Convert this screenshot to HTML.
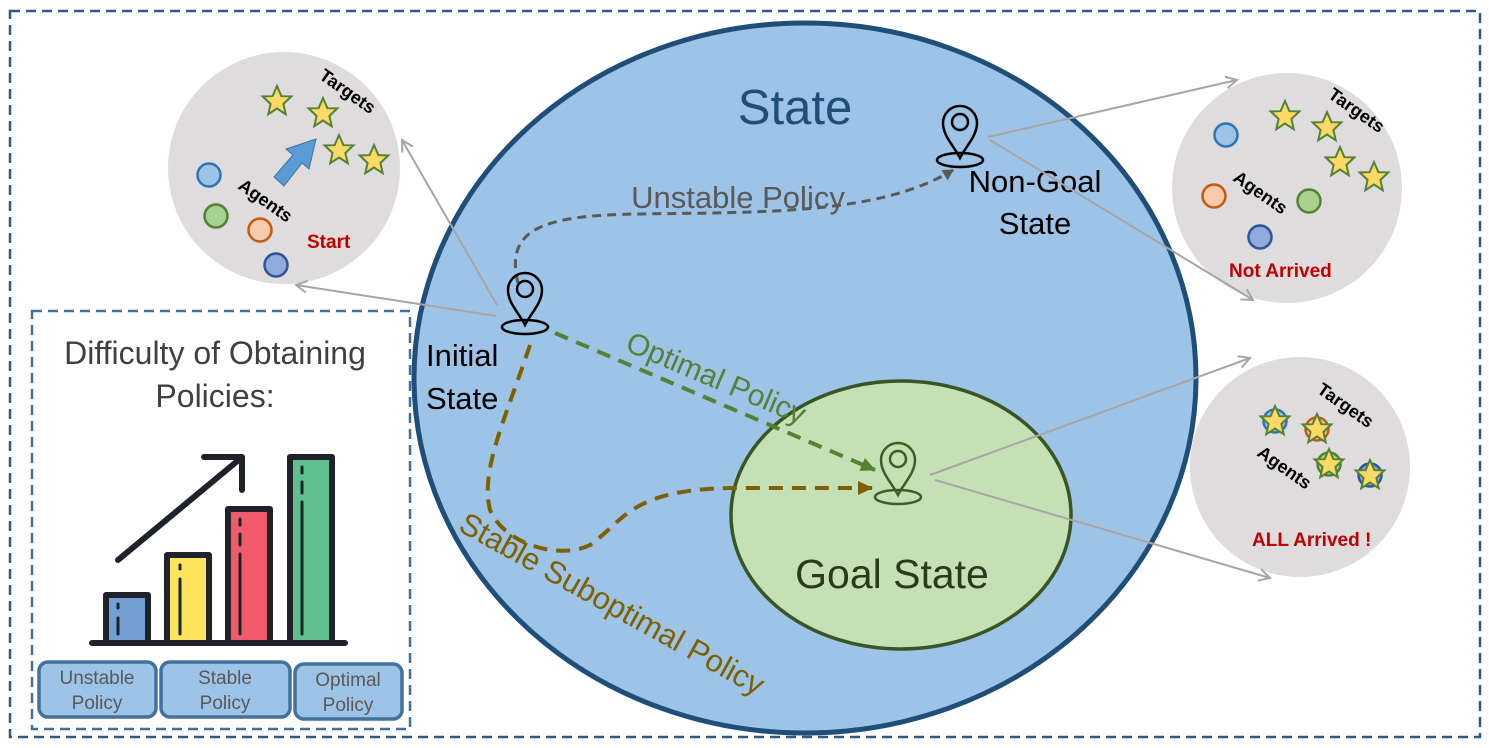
<!DOCTYPE html>
<html><head><meta charset="utf-8"><style>
body{margin:0;background:#fff}
svg{display:block;font-family:"Liberation Sans",sans-serif}
</style></head><body>
<svg width="1489" height="748" viewBox="0 0 1489 748">
<defs>
<g id="star"><polygon points="0,-15 4.4,-4.8 14.3,-4.6 6.4,3 8.7,13.2 0,7.5 -8.7,13.2 -6.4,3 -14.3,-4.6 -4.4,-4.8" fill="#ffd966" stroke="#538135" stroke-width="2"/></g>
<marker id="ag" markerWidth="14" markerHeight="14" refX="12" refY="7" orient="auto" markerUnits="userSpaceOnUse"><path d="M1,1 L12,7 L1,13" fill="none" stroke="#a6a6a6" stroke-width="2"/></marker>
<marker id="ad" markerWidth="12" markerHeight="12" refX="10" refY="6" orient="auto" markerUnits="userSpaceOnUse"><path d="M0,0 L11,6 L0,12Z" fill="#595959"/></marker>
<marker id="agr" markerWidth="16" markerHeight="16" refX="14" refY="8" orient="auto" markerUnits="userSpaceOnUse"><path d="M0,1 L15,8 L0,15Z" fill="#548235"/></marker>
<marker id="abr" markerWidth="16" markerHeight="16" refX="14" refY="8" orient="auto" markerUnits="userSpaceOnUse"><path d="M0,1 L15,8 L0,15Z" fill="#7f6000"/></marker>
<g id="pin"><path d="M0,0 C-6,-12 -17,-22 -17,-35 A17,17 0 1,1 17,-35 C17,-22 6,-12 0,0Z" fill="none" stroke-width="2.5"/><circle cx="0" cy="-36" r="8" fill="none" stroke-width="2.5"/><ellipse cx="0" cy="2" rx="23" ry="7" fill="none" stroke-width="2.5"/></g>
</defs>
<rect x="10" y="11" width="1470" height="726" fill="none" stroke="#2e5a87" stroke-width="2.5" stroke-dasharray="10,6"/>
<ellipse cx="805" cy="378" rx="391" ry="355" fill="#9dc3e6" stroke="#1f4e79" stroke-width="5"/>
<ellipse cx="901" cy="515" rx="170" ry="134" fill="#c5e0b4" stroke="#375623" stroke-width="3.5"/>
<text x="795" y="124" font-size="49" fill="#1f4e79" text-anchor="middle">State</text>
<text x="738" y="208" font-size="31" fill="#595959" text-anchor="middle">Unstable Policy</text>
<text x="1035" y="192" font-size="31" fill="#000" text-anchor="middle">Non-Goal</text>
<text x="1035" y="234" font-size="31" fill="#000" text-anchor="middle">State</text>
<text x="426" y="366" font-size="31" fill="#000">Initial</text>
<text x="426" y="409" font-size="31" fill="#000">State</text>
<text x="892" y="588" font-size="41" fill="#2b3a1f" text-anchor="middle">Goal State</text>
<text transform="translate(624,350) rotate(23)" font-size="30" fill="#548235">Optimal Policy</text>
<text transform="translate(457,530) rotate(29)" font-size="31" fill="#7f6000">Stable Suboptimal Policy</text>
<path d="M518,283 C505,230 540,215 640,214 C760,212 880,215 953,170" fill="none" stroke="#595959" stroke-width="3" stroke-dasharray="9,6" marker-end="url(#ad)"/>
<path d="M555,333 L875,470" fill="none" stroke="#548235" stroke-width="4" stroke-dasharray="14,9" marker-end="url(#agr)"/>
<path d="M530,345 C505,420 480,470 490,510 C505,545 560,560 590,545 C625,520 630,490 730,488 L872,488" fill="none" stroke="#7f6000" stroke-width="4" stroke-dasharray="14,9" marker-end="url(#abr)"/>
<use href="#pin" x="525" y="325" stroke="#000"/>
<use href="#pin" x="960" y="158" stroke="#000"/>
<use href="#pin" x="898" y="495" stroke="#3a5f24"/>
<circle cx="284" cy="168" r="116" fill="#dedcdc"/>
<circle cx="1287" cy="188" r="115" fill="#dedcdc"/>
<circle cx="1300" cy="467" r="110" fill="#dedcdc"/>
<g stroke="#a6a6a6" stroke-width="2" fill="none" marker-end="url(#ag)">
<line x1="496" y1="316" x2="296" y2="285"/>
<line x1="497" y1="305" x2="402" y2="140"/>
<line x1="988" y1="137" x2="1237" y2="80"/>
<line x1="990" y1="140" x2="1253" y2="300"/>
<line x1="930" y1="475" x2="1250" y2="358"/>
<line x1="935" y1="480" x2="1270" y2="578"/>
</g>
<use href="#star" x="277" y="101"/><use href="#star" x="323" y="113"/><use href="#star" x="339" y="150"/><use href="#star" x="374" y="160"/>
<path d="M274,177 L293,155 L286,149 L316,139 L309,169 L302,163 L284,186Z" fill="#5b9bd5" stroke="#41719c" stroke-width="1"/>
<circle cx="209" cy="175" r="11.5" fill="#9dc3e6" stroke="#2e75b6" stroke-width="2.5"/>
<circle cx="216" cy="216" r="11.5" fill="#a9d18e" stroke="#538135" stroke-width="2.5"/>
<circle cx="260" cy="230" r="11.5" fill="#f8cbad" stroke="#c55a11" stroke-width="2.5"/>
<circle cx="276" cy="265" r="11.5" fill="#8faadc" stroke="#2f5597" stroke-width="2.5"/>
<text transform="translate(318,78) rotate(35)" font-size="18" font-weight="bold">Targets</text>
<text transform="translate(237,188) rotate(35)" font-size="18" font-weight="bold">Agents</text>
<text x="307" y="248" font-size="19" font-weight="bold" fill="#c00000">Start</text>
<use href="#star" x="1285" y="116"/><use href="#star" x="1327" y="127"/><use href="#star" x="1340" y="162"/><use href="#star" x="1374" y="177"/>
<circle cx="1226" cy="135" r="11.5" fill="#9dc3e6" stroke="#2e75b6" stroke-width="2.5"/>
<circle cx="1214" cy="196" r="11.5" fill="#f8cbad" stroke="#c55a11" stroke-width="2.5"/>
<circle cx="1309" cy="201" r="11.5" fill="#a9d18e" stroke="#538135" stroke-width="2.5"/>
<circle cx="1260" cy="237" r="11.5" fill="#8faadc" stroke="#2f5597" stroke-width="2.5"/>
<text transform="translate(1327,97) rotate(35)" font-size="18" font-weight="bold">Targets</text>
<text transform="translate(1232,180) rotate(35)" font-size="18" font-weight="bold">Agents</text>
<text x="1229" y="277" font-size="19" font-weight="bold" fill="#c00000">Not Arrived</text>
<circle cx="1275" cy="421" r="11.5" fill="#9dc3e6" stroke="#2e75b6" stroke-width="2.5"/><use href="#star" x="1275" y="421"/>
<circle cx="1317" cy="429" r="11.5" fill="#f8cbad" stroke="#c55a11" stroke-width="2.5"/><use href="#star" x="1317" y="429"/>
<circle cx="1329" cy="464" r="11.5" fill="#a9d18e" stroke="#538135" stroke-width="2.5"/><use href="#star" x="1329" y="464"/>
<circle cx="1370" cy="475" r="11.5" fill="#8faadc" stroke="#2f5597" stroke-width="2.5"/><use href="#star" x="1370" y="475"/>
<text transform="translate(1316,392) rotate(35)" font-size="18" font-weight="bold">Targets</text>
<text transform="translate(1256,455) rotate(35)" font-size="18" font-weight="bold">Agents</text>
<text x="1252" y="546" font-size="19" font-weight="bold" fill="#c00000">ALL Arrived !</text>
<rect x="32" y="311" width="378" height="418" fill="#fff" stroke="#41719c" stroke-width="2.5" stroke-dasharray="10,6"/>
<text x="215" y="364" font-size="32" fill="#404040" text-anchor="middle">Difficulty of Obtaining</text>
<text x="215" y="407" font-size="32" fill="#404040" text-anchor="middle">Policies:</text>
<g stroke="#1f2329" stroke-width="6" stroke-linecap="round" stroke-linejoin="round">
<rect x="106" y="595" width="42" height="48" fill="#739fd3"/>
<rect x="167" y="555" width="42" height="88" fill="#f9e45c"/>
<rect x="228" y="509" width="42" height="134" fill="#f05b6b"/>
<rect x="290" y="457" width="42" height="186" fill="#5fbf8f"/>
<line x1="92" y1="643" x2="345" y2="643"/>
<line x1="118" y1="560" x2="241" y2="458"/>
<polyline points="204,457 242,457 242,490" fill="none"/>
</g>
<g stroke="#1f2329" stroke-width="3" stroke-linecap="round">
<line x1="118" y1="604" x2="118" y2="608"/><line x1="118" y1="618" x2="118" y2="634"/>
<line x1="180" y1="565" x2="180" y2="569"/><line x1="180" y1="579" x2="180" y2="634"/>
<line x1="240" y1="519" x2="240" y2="525"/><line x1="240" y1="534" x2="240" y2="545"/><line x1="240" y1="554" x2="240" y2="634"/>
<line x1="302" y1="467" x2="302" y2="473"/><line x1="302" y1="482" x2="302" y2="493"/><line x1="302" y1="502" x2="302" y2="634"/>
</g>
<g fill="#9dc3e6" stroke="#41719c" stroke-width="3.5">
<rect x="39" y="662" width="117" height="55" rx="9"/>
<rect x="161" y="662" width="129" height="55" rx="9"/>
<rect x="295" y="664" width="107" height="55" rx="9"/>
</g>
<g font-size="19" fill="#595959" text-anchor="middle">
<text x="97" y="684">Unstable</text><text x="97" y="709">Policy</text>
<text x="225" y="684">Stable</text><text x="225" y="709">Policy</text>
<text x="348" y="686">Optimal</text><text x="348" y="711">Policy</text>
</g>
</svg>
</body></html>
